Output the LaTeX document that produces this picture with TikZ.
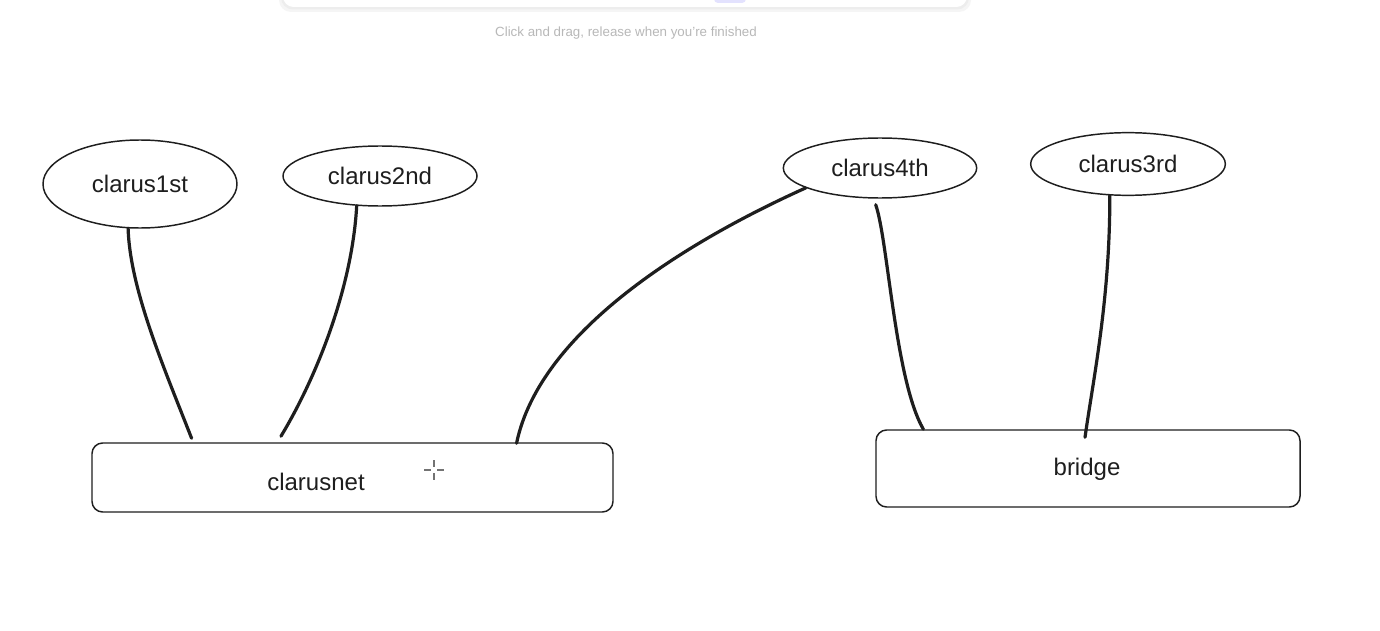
\documentclass[tikz,border=0pt]{standalone}
\usepackage{fontspec}
\setmainfont{Liberation Sans}
\usetikzlibrary{shapes.geometric,calc}
\definecolor{ink}{HTML}{1E1E1E}
\definecolor{hint}{HTML}{B8B8B8}
\definecolor{lav}{HTML}{E3E2FE}
\begin{document}
\begin{tikzpicture}[x=0.75pt,y=-0.75pt,
  oval/.style={draw=ink,line width=1.1pt,ellipse,inner sep=0pt,font=\fontsize{18}{20}\selectfont,text=ink},
  netbox/.style={draw=ink,line width=1.1pt,rounded corners=8pt,inner sep=0pt,font=\fontsize{18}{20}\selectfont,text=ink},
  wire/.style={draw=ink,line width=2.4pt,line cap=round}]
\useasboundingbox (0,0) rectangle (1380,631);
\fill[white] (0,0) rectangle (1380,631);
% toolbar remnant
\fill[black!4,rounded corners=9pt] (279,-30) rectangle (971,12);
\fill[black!7,rounded corners=9pt] (281,-30) rectangle (969,9.5);
\fill[white,rounded corners=8pt] (283,-30) rectangle (967,7);
\fill[lav,rounded corners=3pt] (714,-6) rectangle (746,3);
\node[text=hint,font=\fontsize{10}{12}\selectfont] (hinttext) at (626,33) {Click and drag, release when you're finished};
% ellipses
\node[oval,minimum width=145.5pt,minimum height=66pt] (c1) at (140,184) {clarus1st};
\node[oval,minimum width=145.5pt,minimum height=45pt] (c2) at (380,176) {clarus2nd};
\node[oval,minimum width=145pt,minimum height=45pt] (c4) at (880,168) {clarus4th};
\node[oval,minimum width=146pt,minimum height=47pt] (c3) at (1128,164) {clarus3rd};
% boxes
\node[netbox,minimum width=390.75pt,minimum height=51.75pt] (net) at (352.5,477.5) {};
\node[text=ink,font=\fontsize{18}{20}\selectfont] (netlabel) at (316,482) {clarusnet};
\node[netbox,minimum width=318pt,minimum height=57.75pt] (br) at (1088,468.5) {};
\node[text=ink,font=\fontsize{18}{20}\selectfont] (brlabel) at (1087,469) {bridge};
% connector ends on boxes
\coordinate (n1) at ($(net.north west)!0.192!(net.north east)+(0,-4)$);
\coordinate (n2) at ($(net.north west)!0.363!(net.north east)+(0,-6)$);
\coordinate (n3) at ($(net.north west)!0.814!(net.north east)+(0,1)$);
\coordinate (b1) at ($(br.north west)!0.113!(br.north east)+(0,0)$);
\coordinate (b2) at ($(br.north west)!0.493!(br.north east)+(0,8)$);
\coordinate (c4b) at ($(c4.262)+(0,6)$);
% connectors
\draw[wire] (c1.255) .. controls (130,290) and (165,370) .. (n1);
\draw[wire] (c2.232) .. controls (352,290) and (315,380) .. (n2);
\draw[wire] (c4.195) .. controls (690,240) and (540,330) .. (n3);
\draw[wire] (c4b) .. controls (888,240) and (895,380) .. (b1);
\draw[wire] (c3.240) .. controls (1110,300) and (1093,380) .. (b2);
% cursor
\coordinate (cur) at (434,470);
\draw[black!55,line width=1.2pt] ($(cur)+(-10,0)$) -- ($(cur)+(-3,0)$) ($(cur)+(3,0)$) -- ($(cur)+(10,0)$)
  ($(cur)+(0,-10)$) -- ($(cur)+(0,-3)$) ($(cur)+(0,3)$) -- ($(cur)+(0,10)$);
\end{tikzpicture}
\end{document}
